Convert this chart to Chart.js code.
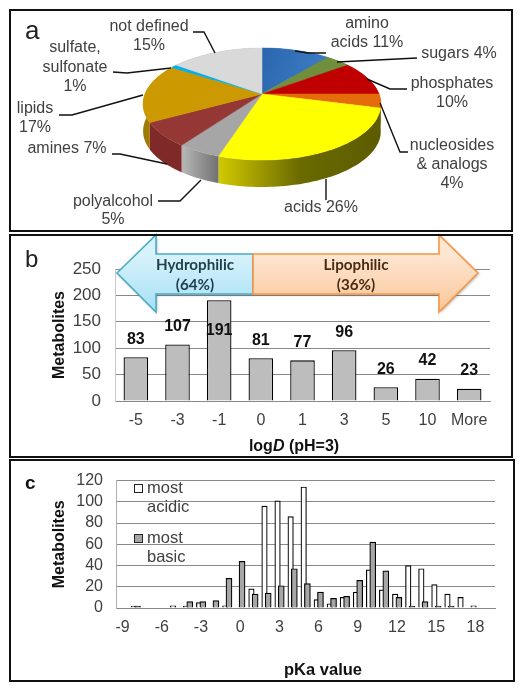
<!DOCTYPE html>
<html><head><meta charset="utf-8">
<script src="https://cdn.jsdelivr.net/npm/chart.js@4"></script>
<style>
html,body{margin:0;padding:0;background:#fff;width:524px;height:691px;overflow:hidden}
canvas{position:absolute;left:0}
.frame{position:absolute;box-sizing:border-box;border:2px solid #111;z-index:5;pointer-events:none}
#wrap{position:relative;width:524px;height:691px;filter:blur(0.35px)}
</style></head><body>
<div id="wrap">
<canvas id="ca" width="524" height="233" style="top:0"></canvas>
<canvas id="cb" width="524" height="225" style="top:233px"></canvas>
<canvas id="cc" width="524" height="233" style="top:458px"></canvas>
<div class="frame" style="left:9px;top:9px;width:504px;height:223px"></div>
<div class="frame" style="left:9px;top:234px;width:504px;height:224px"></div>
<div class="frame" style="left:9px;top:459px;width:506px;height:223px"></div>
</div>
<script>
const pieCategories=["amino acids","sugars","phosphates","nucleosides & analogs","acids","polyalcohol","amines","lipids","sulfate, sulfonate","not defined"];
const pieValues=[11,4,10,4,26,5,7,17,1,15];
const pieColors=["#2f6db5","#6f8f3c","#c00000","#e46c0a","#ffff00","#a6a6a6","#953735","#cc9900","#00b0f0","#d9d9d9"];
const pieSideColors=["#1f4e85","#4f6a2a","#8a0000","#a84f05","#6a6a00","#8a8a8a","#7f2a28","#a07a00","#0080b0","#a0a0a0"];
const pieLabelLines=[["amino","acids 11%"],["sugars 4%"],["phosphates","10%"],["nucleosides","& analogs","4%"],["acids 26%"],["polyalcohol","5%"],["amines 7%"],["lipids","17%"],["sulfate,","sulfonate","1%"],["not defined","15%"]];

const logDCategories=["-5","-3","-1","0","1","3","5","10","More"];
const logDValues=[83,107,191,81,77,96,26,42,23];

const pKaCategories=[-9,-8,-7,-6,-5,-4,-3,-2,-1,0,1,2,3,4,5,6,7,8,9,10,11,12,13,14,15,16,17,18,19];
const mostAcidic=[null,1,null,null,2,1,5,null,2,null,18,96,101,86,114,8,4,10,15,36,17,13,40,37,22,13,10,2,null];
const mostBasic=[null,1,null,null,null,6,6,7,28,44,13,14,21,37,23,15,9,11,26,62,35,10,1,6,1,1,null,null,null];

const TXT="#404040";
const FONT='"Liberation Sans",Arial,sans-serif';

/* ---------- panel a ---------- */
const pieCX=262,pieCY=94,pieR=117,pieB=54.2,pieA=0.1786,pieH=27;
function rim(t,dy){const s=Math.sin(t),c=Math.cos(t),w=1-pieA*s;return [pieCX+pieR*c/w,pieCY+pieB*s/w+(dy||0)];}
function sliceGradient(ctx,i,base){
  if(i===4){const g=ctx.createLinearGradient(220,0,380,0);g.addColorStop(0,"#cfc800");g.addColorStop(.2,"#a8a200");g.addColorStop(.5,"#6a6a00");g.addColorStop(1,"#5c5c00");return g;}
  if(i===5){const g=ctx.createLinearGradient(184,0,220,0);g.addColorStop(0,"#b4b4b4");g.addColorStop(1,"#6e6e6e");return g;}
  if(i===0){const g=ctx.createLinearGradient(262,48,325,70);g.addColorStop(0,"#2a66ad");g.addColorStop(1,"#3d7cc4");return g;}
  return base;
}
const pie3d={id:"pie3d",
  beforeDatasetDraw(chart){
    const ctx=chart.ctx,arcs=chart.getDatasetMeta(0).data;
    ctx.save();
    arcs.forEach((a,i)=>{
      const p=a.getProps(["startAngle","endAngle"]);const n=Math.max(4,Math.ceil((p.endAngle-p.startAngle)*40));
      ctx.beginPath();
      for(let k=0;k<=n;k++){const q=rim(p.startAngle+(p.endAngle-p.startAngle)*k/n,0);k?ctx.lineTo(q[0],q[1]):ctx.moveTo(q[0],q[1]);}
      for(let k=n;k>=0;k--){const q=rim(p.startAngle+(p.endAngle-p.startAngle)*k/n,pieH);ctx.lineTo(q[0],q[1]);}
      ctx.closePath();ctx.fillStyle=sliceGradient(ctx,i,pieSideColors[i]);ctx.fill();
    });
    arcs.forEach((a,i)=>{
      const p=a.getProps(["startAngle","endAngle"]);const n=Math.max(4,Math.ceil((p.endAngle-p.startAngle)*40));
      ctx.beginPath();ctx.moveTo(pieCX,pieCY);
      for(let k=0;k<=n;k++){const q=rim(p.startAngle+(p.endAngle-p.startAngle)*k/n,0);ctx.lineTo(q[0],q[1]);}
      ctx.closePath();
      const f=i===0?sliceGradient(ctx,0,pieColors[0]):pieColors[i];
      ctx.fillStyle=f;ctx.strokeStyle=f;ctx.lineWidth=.5;ctx.fill();ctx.stroke();
    });
    ctx.restore();
    return false;
  },
  afterDraw(chart){
    const ctx=chart.ctx;ctx.save();
    const leaders=[
      [[295,51],[308,53],[326,53]],
      [[337,62],[417,58]],
      [[367,79],[390,89],[407,89]],
      [[380,103],[400,152],[408,152]],
      [[326,179],[326,200]],
      [[201,180],[180,201],[158,201]],
      [[112,154],[120,154],[167,164]],
      [[59,115],[72,115],[143,95]],
      [[113,72],[127,73],[171,68]],
      [[193,32],[204,32],[215,53]]];
    ctx.strokeStyle="#111";ctx.lineWidth=1.4;
    leaders.forEach(l=>{ctx.beginPath();l.forEach((p,i)=>i?ctx.lineTo(p[0],p[1]):ctx.moveTo(p[0],p[1]));ctx.stroke();});
    const pos=[[367,24,19],[459,54,19],[452,84,19],[452,146,19],[321,208,19],[113,202,18],[67,149,19],[35,109,19],[75,48,19.5],[149,27,19]];
    ctx.fillStyle=TXT;ctx.font="16px "+FONT;ctx.textAlign="center";ctx.textBaseline="middle";
    pieLabelLines.forEach((ls,i)=>ls.forEach((s,j)=>ctx.fillText(s,pos[i][0],pos[i][1]+j*pos[i][2])));
    ctx.fillStyle="#222";ctx.font="26px "+FONT;ctx.textAlign="left";ctx.fillText("a",25,32);
    ctx.restore();
  }};
new Chart(document.getElementById("ca"),{type:"pie",
  data:{labels:pieCategories,datasets:[{data:pieValues,backgroundColor:pieColors}]},
  options:{responsive:false,animation:false,events:[],plugins:{legend:{display:false},tooltip:{enabled:false}}},
  plugins:[pie3d]});

/* ---------- panel b ---------- */
function arrow(ctx,pts,fill,stroke){
  ctx.save();
  ctx.shadowColor="rgba(0,0,0,.35)";ctx.shadowBlur=3;ctx.shadowOffsetX=1;ctx.shadowOffsetY=1;
  ctx.beginPath();pts.forEach((p,i)=>i?ctx.lineTo(p[0],p[1]):ctx.moveTo(p[0],p[1]));ctx.closePath();
  ctx.fillStyle=fill;ctx.fill();
  ctx.shadowColor="transparent";ctx.strokeStyle=stroke;ctx.lineWidth=1.6;ctx.stroke();ctx.restore();
}
const panelB={id:"panelB",
  afterDatasetsDraw(chart){
    const ctx=chart.ctx,meta=chart.getDatasetMeta(0),y=chart.scales.y;
    ctx.save();
    ctx.fillStyle="#111";ctx.font="bold 16px "+FONT;ctx.textAlign="center";ctx.textBaseline="middle";
    logDValues.forEach((v,i)=>{
      const off=i===2?30:-18;
      ctx.fillText(String(v),meta.data[i].x,y.getPixelForValue(v)+off);
    });
    const gb=ctx.createLinearGradient(0,21,0,79);gb.addColorStop(0,"#d8f2fb");gb.addColorStop(1,"#a6e0f5");
    arrow(ctx,[[117,40],[156,2],[156,21],[253,21],[253,61],[156,61],[156,79]],gb,"#4bacc6");
    const go=ctx.createLinearGradient(0,21,0,79);go.addColorStop(0,"#fde6d2");go.addColorStop(1,"#fbc698");
    arrow(ctx,[[253,21],[439,21],[439,2],[478,40],[439,79],[439,61],[253,61]],go,"#f79646");
    ctx.font='bold 15.2px Lato,"Open Sans",sans-serif';
    ctx.fillStyle="#1d3f4c";ctx.fillText("Hydrophilic",195,32);ctx.fillText("(64%)",195,52);
    ctx.fillStyle="#4a2c14";ctx.fillText("Lipophilic",356,32);ctx.fillText("(36%)",356,52);
    const parts=[["log","bold"],["D","italic bold"],[" (pH=3)","bold"]];
    ctx.textAlign="left";ctx.fillStyle="#111";
    let w=0;parts.forEach(p=>{ctx.font=p[1]+" 16px "+FONT;w+=ctx.measureText(p[0]).width;});
    let x=294-w/2;parts.forEach(p=>{ctx.font=p[1]+" 16px "+FONT;ctx.fillText(p[0],x,214);x+=ctx.measureText(p[0]).width;});
    ctx.font="24px "+FONT;ctx.fillStyle="#222";ctx.fillText("b",25,27);
    ctx.restore();
  }};
new Chart(document.getElementById("cb"),{type:"bar",
  data:{labels:logDCategories,datasets:[{label:"Metabolites",data:logDValues,backgroundColor:"#bdbdbd",borderColor:"#000",borderWidth:1.3,categoryPercentage:1,barPercentage:.59}]},
  options:{responsive:false,animation:false,events:[],
    layout:{padding:{left:0,top:36,right:34,bottom:0}},
    plugins:{legend:{display:false},tooltip:{enabled:false}},
    scales:{
      x:{afterFit(s){s.height=57},grid:{display:false,drawTicks:false},border:{color:"#8a8a8a"},
         ticks:{padding:10,color:TXT,font:{size:16,family:FONT},maxRotation:0}},
      y:{min:0,max:250,afterFit(s){s.width=115},
         ticks:{stepSize:50,padding:14,autoSkip:false,color:TXT,font:{size:17,family:FONT}},
         grid:{color:"#8a8a8a",drawTicks:false},border:{color:"#c8c8c8"},
         title:{display:true,text:"Metabolites",color:"#111",font:{size:16,weight:"bold",family:FONT},padding:{top:50}}}
    }},plugins:[panelB]});

/* ---------- panel c ---------- */
const panelC={id:"panelC",
  afterDatasetsUpdate(chart){
    chart.data.datasets.forEach((d,i)=>{
      const shift=d.label==="most acidic"?-1.8:1.9;
      chart.getDatasetMeta(i).data.forEach(b=>{b.x+=shift;});
    });
  },
  afterDatasetsDraw(chart){
    const ctx=chart.ctx;ctx.save();
    ctx.font="16.5px "+FONT;ctx.textAlign="left";ctx.textBaseline="middle";
    ctx.strokeStyle="#222";ctx.lineWidth=1;
    ctx.fillStyle="#fff";ctx.fillRect(134.5,26.5,8,8);ctx.strokeRect(134.5,26.5,8,8);
    ctx.fillStyle="#a6a6a6";ctx.fillRect(134.5,76.5,8,8);ctx.strokeRect(134.5,76.5,8,8);
    ctx.fillStyle=TXT;
    ctx.fillText("most",147,30);ctx.fillText("acidic",147,49);
    ctx.fillText("most",147,80);ctx.fillText("basic",147,99);
    ctx.fillStyle="#111";ctx.font="bold 19px "+FONT;ctx.fillText("c",25,26);
    ctx.font="bold 16.5px "+FONT;ctx.textAlign="center";ctx.fillText("pKa value",323,212);
    ctx.restore();
  }};
new Chart(document.getElementById("cc"),{type:"bar",
  data:{labels:pKaCategories,datasets:[
    {label:"most acidic",data:mostAcidic,backgroundColor:"#fff",borderColor:"#000",borderWidth:1.2,minBarLength:2,order:2,barThickness:5.5,grouped:false},
    {label:"most basic",data:mostBasic,backgroundColor:"#a6a6a6",borderColor:"#000",borderWidth:1.2,minBarLength:2,order:1,barThickness:6,grouped:false}]},
  options:{responsive:false,animation:false,events:[],
    layout:{padding:{left:0,top:13,right:29,bottom:0}},
    plugins:{legend:{display:false},tooltip:{enabled:false}},
    scales:{
      x:{afterFit(s){s.height=83},grid:{display:false,drawTicks:false},border:{color:"#8a8a8a"},
         ticks:{autoSkip:false,padding:10,maxRotation:0,color:TXT,font:{size:16,family:FONT},
                callback(v){const n=pKaCategories[v];return n%3===0?String(n):"";}}},
      y:{min:0,max:120,afterFit(s){s.width=116},
         ticks:{stepSize:20,autoSkip:false,padding:13,color:TXT,font:{size:16,family:FONT}},
         grid:{color:"#8a8a8a",drawTicks:false},border:{color:"#b0b0b0"},
         title:{display:true,text:"Metabolites",color:"#111",font:{size:16,weight:"bold",family:FONT},padding:{top:50}}}
    }},plugins:[panelC]});
</script>
</body></html>
